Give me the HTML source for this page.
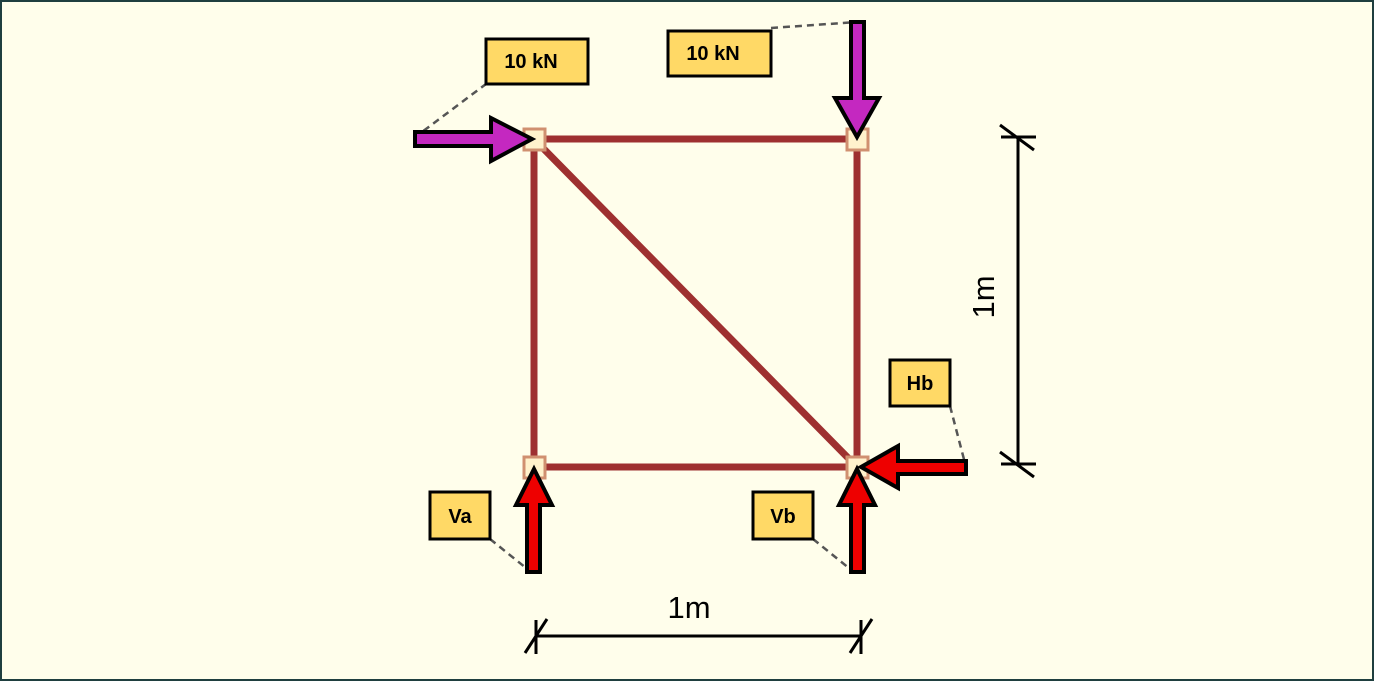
<!DOCTYPE html>
<html><head><meta charset="utf-8"><style>
html,body{margin:0;padding:0;background:#fffeeb;}
svg{display:block}
</style></head><body>
<svg width="1374" height="681" viewBox="0 0 1374 681" xmlns="http://www.w3.org/2000/svg">
<rect x="1" y="1" width="1372" height="679" fill="#fffeeb" stroke="#1f3f3f" stroke-width="2"/>
<g stroke="#9e3030" stroke-width="7" fill="none">
<line x1="534" y1="139" x2="857" y2="139"/>
<line x1="534" y1="139" x2="534" y2="467"/>
<line x1="857" y1="139" x2="857" y2="467"/>
<line x1="534" y1="467" x2="857" y2="467"/>
<line x1="534" y1="139" x2="857" y2="467"/>
</g>
<g fill="#fff2cc" stroke="#d09070" stroke-width="3">
<rect x="524" y="129" width="21" height="21"/>
<rect x="847" y="129" width="21" height="21"/>
<rect x="524" y="457" width="21" height="21"/>
<rect x="847" y="457" width="21" height="21"/>
</g>
<g stroke="#555" stroke-width="2.5" stroke-dasharray="7,5" fill="none">
<line x1="414" y1="138" x2="486" y2="84"/>
<line x1="771" y1="28" x2="857" y2="22"/>
<line x1="950" y1="406" x2="966" y2="467"/>
<line x1="490" y1="539" x2="531" y2="572"/>
<line x1="813" y1="539" x2="855" y2="573"/>
</g>
<g fill="#c428c0" stroke="#000" stroke-width="4" stroke-linejoin="miter">
<polygon points="415,132 491,132 491,118 532,139 491,161 491,146 415,146"/>
<polygon points="851,22 864,22 864,98 879,98 857,137 835,98 851,98"/>
</g>
<g fill="#ee0000" stroke="#000" stroke-width="4">
<polygon points="527,572 540,572 540,505 552,505 534,469 516,505 527,505"/>
<polygon points="851,572 864,572 864,505 875,505 857,469 839,505 851,505"/>
<polygon points="966,461 966,474 898,474 898,488 861,467 898,446 898,461"/>
</g>
<g fill="#ffd966" stroke="#000" stroke-width="3">
<rect x="486" y="39" width="102" height="45"/>
<rect x="668" y="31" width="103" height="45"/>
<rect x="890" y="360" width="60" height="46"/>
<rect x="430" y="492" width="60" height="47"/>
<rect x="753" y="492" width="60" height="47"/>
</g>
<g font-family="Liberation Sans, sans-serif" font-weight="bold" font-size="20" fill="#000" text-anchor="middle">
<text x="531" y="68">10 kN</text>
<text x="713" y="60">10 kN</text>
<text x="920" y="390">Hb</text>
<text x="460" y="523">Va</text>
<text x="783" y="523">Vb</text>
</g>
<g stroke="#000" stroke-width="3" fill="none">
<line x1="536" y1="636" x2="861" y2="636"/>
<line x1="536" y1="620" x2="536" y2="654"/>
<line x1="861" y1="620" x2="861" y2="654"/>
<line x1="525" y1="653" x2="547" y2="619"/>
<line x1="850" y1="653" x2="872" y2="619"/>
<line x1="1018" y1="137" x2="1018" y2="464"/>
<line x1="1001" y1="137" x2="1036" y2="137"/>
<line x1="1001" y1="464" x2="1036" y2="464"/>
<line x1="1000" y1="125" x2="1034" y2="150"/>
<line x1="1000" y1="452" x2="1034" y2="477"/>
</g>
<text x="689" y="618" font-family="Liberation Sans, sans-serif" font-size="31" text-anchor="middle">1m</text>
<text x="0" y="0" font-family="Liberation Sans, sans-serif" font-size="31" text-anchor="middle" transform="translate(994,297) rotate(-90)">1m</text>
</svg>
</body></html>
